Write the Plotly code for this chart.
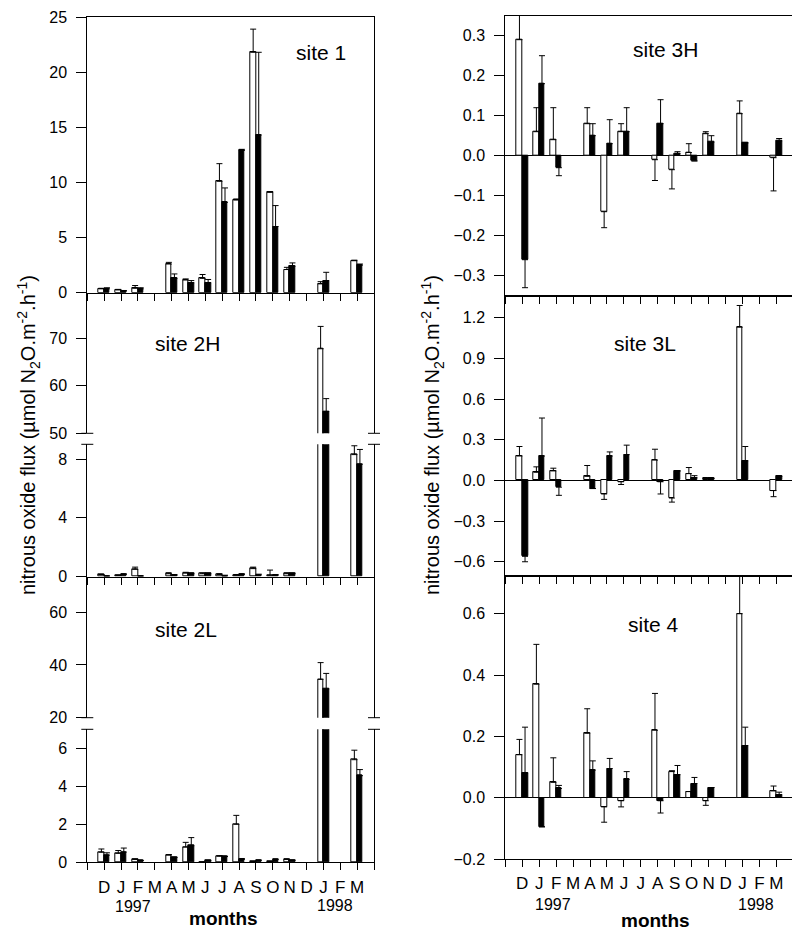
import plotly.graph_objects as go

# ---------------- data ----------------
months = ['D', 'J', 'F', 'M', 'A', 'M', 'J', 'J', 'A', 'S', 'O', 'N', 'D', 'J', 'F', 'M']
years = ['1997', '1998']

site1_white = [0.35, 0.25, 0.4, None, 2.6, 1.15, 1.3, 10.1, 8.4, 21.8, 9.1, 2.1, None, 0.8, None, 2.9]
site1_white_err = [0.05, 0.05, 0.25, None, 0.15, 0.1, 0.35, 1.6, 0.1, 2.1, 0.05, 0.2, None, 0.2, None, 0.05]
site1_black = [0.35, 0.15, 0.35, None, 1.3, 0.9, 0.9, 8.2, 12.9, 14.3, 6.0, 2.4, None, 1.1, None, 2.5]
site1_black_err = [0.1, 0.05, 0.1, None, 0.4, 0.2, 0.3, 1.3, 0.1, 7.5, 1.9, 0.3, None, 0.75, None, 0.1]

site2H_white = [0.15, 0.1, 0.5, None, 0.2, 0.25, 0.2, 0.15, 0.1, 0.55, 0.1, 0.2, None, 67.8, None, 8.3]
site2H_white_err = [0.0, 0.0, 0.15, None, 0.05, 0.05, 0.05, 0.05, 0.05, 0.1, 0.35, 0.05, None, 4.7, None, 0.6]
site2H_black = [0.05, 0.15, 0.05, None, 0.1, 0.2, 0.2, 0.05, 0.15, 0.12, 0.1, 0.2, None, 54.6, None, 7.65]
site2H_black_err = [0.0, 0.05, 0.0, None, 0.05, 0.05, 0.05, 0.05, 0.05, 0.05, 0.05, 0.05, None, 2.7, None, 1.0]

site2L_white = [0.53, 0.47, 0.15, None, 0.38, 0.8, 0.0, 0.32, 2.0, 0.05, 0.05, 0.15, None, 34.6, None, 5.4]
site2L_white_err = [0.17, 0.15, 0.03, None, 0.03, 0.25, 0.0, 0.03, 0.47, 0.0, 0.0, 0.03, None, 6.3, None, 0.5]
site2L_black = [0.38, 0.54, 0.1, None, 0.25, 0.87, 0.1, 0.3, 0.15, 0.1, 0.15, 0.1, None, 30.9, None, 4.56]
site2L_black_err = [0.12, 0.21, 0.0, None, 0.02, 0.43, 0.0, 0.02, 0.05, 0.02, 0.02, 0.02, None, 5.9, None, 0.32]

site3H_white = [0.29, 0.06, 0.04, None, 0.08, -0.14, 0.06, None, -0.01, -0.035, 0.008, 0.055, None, 0.105, None, -0.005]
site3H_white_err = [0.15, 0.06, 0.08, None, 0.04, 0.04, 0.02, None, 0.052, 0.048, 0.022, 0.005, None, 0.032, None, 0.083]
site3H_black = [-0.26, 0.18, -0.03, None, 0.05, 0.03, 0.06, None, 0.08, 0.005, -0.013, 0.034, None, 0.032, None, 0.037]
site3H_black_err = [0.07, 0.07, 0.02, None, 0.03, 0.06, 0.06, None, 0.06, 0.005, 0.0, 0.016, None, 0.0, None, 0.006]

site3L_white = [0.18, 0.06, 0.07, None, 0.03, -0.1, -0.01, None, 0.15, -0.13, 0.05, 0.015, None, 1.13, None, -0.075]
site3L_white_err = [0.07, 0.04, 0.02, None, 0.08, 0.04, 0.02, None, 0.08, 0.03, 0.045, 0.0, None, 0.16, None, 0.045]
site3L_black = [-0.56, 0.18, -0.05, None, -0.06, 0.18, 0.19, None, -0.01, 0.07, 0.02, 0.015, None, 0.145, None, 0.03]
site3L_black_err = [0.04, 0.28, 0.06, None, 0.0, 0.03, 0.07, None, 0.09, 0.0, 0.015, 0.0, None, 0.105, None, 0.0]

site4_white = [0.14, 0.37, 0.05, None, 0.21, -0.03, -0.01, None, 0.22, 0.085, 0.02, -0.01, None, 0.6, None, 0.022]
site4_white_err = [0.05, 0.13, 0.08, None, 0.08, 0.05, 0.02, None, 0.12, 0.003, 0.0, 0.015, None, 0.2, None, 0.016]
site4_black = [0.08, -0.095, 0.03, None, 0.09, 0.095, 0.06, None, -0.01, 0.075, 0.046, 0.033, None, 0.17, None, 0.01]
site4_black_err = [0.15, 0.0, 0.01, None, 0.03, 0.033, 0.025, None, 0.04, 0.03, 0.02, 0.0, None, 0.06, None, 0.008]

# ---------------- helpers ----------------
FONT = "Liberation Sans, Arial, sans-serif"
OFF = 8.0                 # page body margin
W = 800.0 - OFF
H = 931.0 - OFF
xpos = list(range(1, len(months) + 1))
BW = 0.33


def px(x):
    return (x - OFF) / W


def py(y):
    return 1 - (y - OFF) / H


def err_parts(vals, errs):
    plus, minus = [], []
    for v, e in zip(vals, errs):
        if v is None:
            plus.append(None); minus.append(None)
        elif v >= 0:
            plus.append(e); minus.append(0)
        else:
            plus.append(0); minus.append(e)
    return plus, minus


fig = go.Figure()


def add_pair(white, werr, black, berr, xa, ya):
    for vals, errs, fill, off in ((white, werr, 'white', -BW), (black, berr, 'black', 0)):
        p, m = err_parts(vals, errs)
        fig.add_trace(go.Bar(
            x=xpos, y=vals, width=BW, offset=off,
            marker=dict(color=fill, line=dict(color='black', width=1)),
            error_y=dict(type='data', symmetric=False, array=p, arrayminus=m,
                         color='black', thickness=1, width=3),
            xaxis=xa, yaxis=ya, showlegend=False, hoverinfo='skip'))


add_pair(site1_white, site1_white_err, site1_black, site1_black_err, 'x', 'y')
add_pair(site2H_white, site2H_white_err, site2H_black, site2H_black_err, 'x2', 'y2')
add_pair(site2H_white, site2H_white_err, site2H_black, site2H_black_err, 'x3', 'y3')
add_pair(site2L_white, site2L_white_err, site2L_black, site2L_black_err, 'x4', 'y4')
add_pair(site2L_white, site2L_white_err, site2L_black, site2L_black_err, 'x5', 'y5')
add_pair(site3H_white, site3H_white_err, site3H_black, site3H_black_err, 'x6', 'y6')
add_pair(site3L_white, site3L_white_err, site3L_black, site3L_black_err, 'x7', 'y7')
add_pair(site4_white, site4_white_err, site4_black, site4_black_err, 'x8', 'y8')

LX = [px(87.3), px(374.0)]
RX = [px(505.3), px(793.3)]

NX = len(months) + 1


def xaxis(dom, anchor, visible=True, mirror=False, labels=False):
    d = dict(domain=dom, anchor=anchor, range=[0, NX], visible=visible,
             showline=True, linecolor='black', linewidth=1, mirror=mirror,
             ticks='outside', ticklen=7, tickcolor='black', tickwidth=1,
             tickvals=xpos,
             minor=dict(tickvals=[0, NX], ticks='outside', ticklen=7,
                        tickcolor='black', tickwidth=1, showgrid=False),
             showgrid=False, zeroline=False, fixedrange=True, automargin=False)
    if labels:
        d.update(ticktext=months, showticklabels=True, ticklabeloverflow='allow',
                 tickfont=dict(family=FONT, size=17, color='black'), ticklabelstandoff=2)
    else:
        d.update(showticklabels=False)
    return d


def yaxis(dom, anchor, rng, tv, fmt=None, zl=False):
    d = dict(domain=dom, anchor=anchor, range=rng, tickvals=tv,
             showline=True, linecolor='black', linewidth=1, mirror=True,
             ticks='outside', ticklen=10, tickcolor='black', tickwidth=1,
             showgrid=False, zeroline=zl, zerolinecolor='black', zerolinewidth=1,
             tickfont=dict(family=FONT, size=16, color='black'), ticklabelstandoff=6,
             ticklabeloverflow='allow', fixedrange=True, automargin=False)
    if fmt:
        d['tickformat'] = fmt
    return d


layout = dict(
    width=W, height=H, margin=dict(l=0, r=0, t=0, b=0, pad=0, autoexpand=False),
    paper_bgcolor='white', plot_bgcolor='white', barmode='overlay', bargap=0,
    showlegend=False, font=dict(family=FONT, color='black'),
    xaxis=xaxis(LX, 'y', mirror=True),
    yaxis=yaxis([py(292.7), py(17.0)], 'x', [0, 25], [0, 5, 10, 15, 20, 25]),
    xaxis2=xaxis(LX, 'y2', visible=False),
    yaxis2=yaxis([py(433.3), py(292.7)], 'x2', [50, 79.6], [50, 60, 70]),
    xaxis3=xaxis(LX, 'y3'),
    yaxis3=yaxis([py(576.7), py(444.3)], 'x3', [0, 9], [0, 4, 8]),
    xaxis4=xaxis(LX, 'y4', visible=False),
    yaxis4=yaxis([py(717.7), py(576.7)], 'x4', [20, 73.5], [20, 40, 60]),
    xaxis5=xaxis(LX, 'y5', labels=True),
    yaxis5=yaxis([py(862.3), py(729.3)], 'x5', [0, 7], [0, 2, 4, 6]),
    xaxis6=xaxis(RX, 'y6', mirror=True),
    yaxis6=yaxis([py(295.7), py(15.7)], 'x6', [-0.35, 0.35],
                 [-0.3, -0.2, -0.1, 0.0, 0.1, 0.2, 0.3], '.1f', zl=True),
    xaxis7=xaxis(RX, 'y7', mirror=True),
    yaxis7=yaxis([py(576.0), py(296.0)], 'x7', [-0.705, 1.36],
                 [-0.6, -0.3, 0.0, 0.3, 0.6, 0.9, 1.2], '.1f', zl=True),
    xaxis8=xaxis(RX, 'y8', mirror=True, labels=True),
    yaxis8=yaxis([py(859.0), py(576.0)], 'x8', [-0.2, 0.723],
                 [-0.2, 0.0, 0.2, 0.4, 0.6], '.1f', zl=True),
)
fig.update_layout(**layout)

# axis-break marks
shapes = []
for ypx in (433.3, 444.3, 717.7, 729.3):
    for xpx in (87.3, 374.0):
        shapes.append(dict(type='line', xref='paper', yref='paper',
                           x0=px(xpx - 6), x1=px(xpx + 6), y0=py(ypx), y1=py(ypx),
                           line=dict(color='black', width=1)))
fig.update_layout(shapes=shapes)

ann = []


def txt(s, xpx, ypx, size, bold=False, angle=0):
    ann.append(dict(text=('<b>%s</b>' % s) if bold else s, x=px(xpx), y=py(ypx),
                    xref='paper', yref='paper', showarrow=False, xanchor='center',
                    yanchor='middle', textangle=angle,
                    font=dict(family=FONT, size=size, color='black')))


txt('site 1', 321, 53, 21)
txt('site 2H', 187, 343, 21)
txt('site 2L', 186, 629, 21)
txt('site 3H', 665, 50, 21)
txt('site 3L', 645, 343, 21)
txt('site 4', 653, 624, 21)

# year labels
txt(years[0], 87.3 + 2.7 * 16.87, 906, 16)
txt(years[1], 87.3 + 14.7 * 16.87, 905, 16)
txt(years[0], 505.3 + 2.8 * 16.94, 904, 16)
txt(years[1], 505.3 + 14.8 * 16.94, 904, 16)

txt('months', 224, 918, 19, bold=True)
txt('months', 655, 920, 19, bold=True)

ytitle = 'nitrous oxide flux (µmol N<sub>2</sub>O.m<sup>-2</sup>.h<sup>-1</sup>)'
txt(ytitle, 28, 435, 20, angle=-90)
txt(ytitle, 432, 435, 20, angle=-90)

fig.update_layout(annotations=ann)

fig.write_html("out.html")
